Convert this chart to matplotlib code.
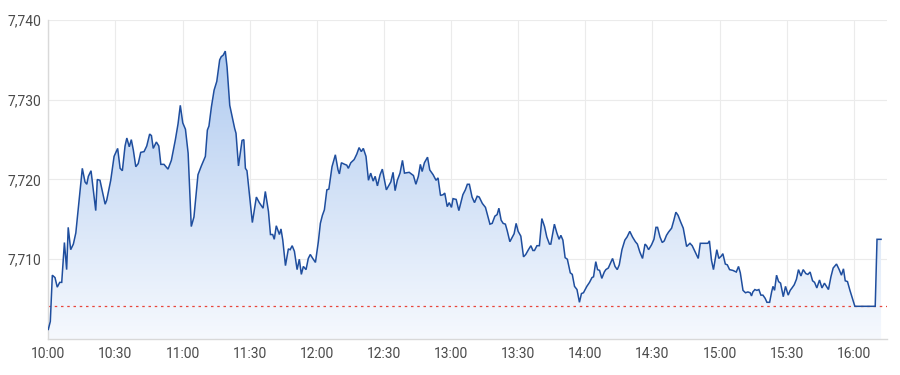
import matplotlib as mpl
mpl.use("Agg")
import matplotlib.pyplot as plt
import numpy as np
from matplotlib.colors import LinearSegmentedColormap
from matplotlib.patches import Polygon

# minutes after 10:00 and index level
MINUTES = [
    0, 0.9, 1.8, 3.0, 4.0, 5.1, 6.0, 7.2, 8.2, 8.9, 10.0, 11.2, 12.3, 13.4, 15.2, 16.4,
    17.2, 17.9, 19.1, 21.2, 21.9, 23.1, 25.4, 26.1, 27.9, 29.4, 31.0, 32.1, 33.1, 34.3,
    35.1, 36.2, 37.1, 38.0, 39.1, 40.2, 41.3, 42.8, 44.0, 45.3, 46.1, 46.9, 48.3, 49.4,
    50.3, 51.7, 53.5, 55.0, 56.8, 58.0, 59.0, 60.1, 61.3, 62.5, 63.9, 65.1, 66.9, 68.4,
    70.2, 71.1, 71.8, 72.9, 74.1, 75.3, 76.6, 77.3, 78.2, 79.1, 79.9, 81.1, 83.3, 83.9,
    85.0, 86.6, 87.4, 88.1, 88.8, 91.2, 93.0, 94.3, 96.0, 97.0, 98.4, 99.3, 100.3, 101.0,
    101.9, 103.3, 104.0, 104.8, 106.0, 107.3, 108.1, 109.0, 110.0, 111.2, 112.2, 113.1,
    114.0, 115.2, 116.2, 117.1, 118.2, 119.4, 120.7, 121.6, 122.5, 123.4, 124.5, 125.4,
    126.8, 128.3, 129.5, 130.1, 131.0, 132.5, 133.4, 134.1, 135.2, 136.7, 137.9, 138.9,
    139.9, 140.8, 142.0, 143.1, 144.1, 145.2, 146.1, 147.1, 148.3, 149.3, 151.1, 153.1,
    154.1, 155.0, 156.0, 157.2, 158.3, 159.2, 161.3, 163.2, 164.3, 165.4, 166.3, 167.1,
    168.1, 169.5, 170.5, 172.0, 173.3, 174.2, 175.3, 176.5, 177.2, 178.3, 179.2, 180.2,
    180.9, 182.3, 183.5, 185.3, 186.4, 187.3, 188.2, 189.4, 190.5, 191.7, 192.6, 194.0,
    195.4, 197.4, 198.4, 199.6, 200.6, 201.4, 202.4, 203.3, 204.3, 205.1, 206.3, 208.2,
    209.1, 210.0, 211.2, 212.4, 213.4, 214.6, 215.7, 216.6, 217.3, 218.4, 219.5, 220.6,
    221.8, 222.8, 224.0, 224.6, 226.2, 227.3, 228.3, 229.1, 230.0, 231.0, 232.0, 233.3,
    234.2, 235.2, 236.3, 237.4, 238.3, 239.2, 240.7, 241.9, 243.0, 243.7, 244.7, 245.5,
    246.4, 247.4, 248.5, 249.2, 250.3, 252.2, 253.3, 254.3, 255.2, 256.4, 257.7, 258.7,
    259.9, 261.1, 262.4, 263.3, 264.4, 265.6, 266.7, 267.4, 268.3, 269.6, 270.7, 271.6,
    272.3, 273.4, 274.4, 275.3, 276.3, 277.2, 278.6, 279.6, 280.5, 281.5, 282.6, 283.8,
    285.3, 286.8, 287.8, 289.0, 290.5, 291.4, 292.8, 294.8, 295.5, 296.4, 297.3, 298.8,
    299.7, 300.8, 301.5, 302.6, 303.5, 304.5, 306.0, 307.5, 308.5, 309.3, 310.5, 311.6,
    312.7, 313.7, 314.3, 314.9, 315.8, 316.7, 317.6, 318.5, 319.4, 320.4, 321.2, 322.4,
    323.3, 323.9, 324.6, 325.5, 326.4, 327.3, 328.5, 329.5, 330.7, 331.6, 332.4, 333.4,
    334.4, 335.3, 336.4, 337.4, 338.6, 339.5, 340.5, 341.6, 342.5, 343.5, 344.7, 345.8,
    346.9, 347.8, 348.7, 349.8, 350.8, 352.3, 353.5, 354.5, 355.4, 356.2, 357.2, 358.3,
    359.4, 360.5, 369.6, 370.4, 372.2,
]
PRICES = [
    7701.2, 7702.2, 7708.0, 7707.7, 7706.5, 7707.1, 7707.1, 7712.1, 7708.7, 7714.0, 7711.2,
    7711.9, 7713.3, 7716.4, 7721.4, 7719.7, 7719.4, 7720.4, 7721.1, 7716.1, 7720.0, 7719.9,
    7716.9, 7717.4, 7719.9, 7722.9, 7723.9, 7721.4, 7721.1, 7724.2, 7725.2, 7724.1, 7725.0,
    7723.7, 7721.6, 7722.0, 7723.4, 7723.5, 7724.2, 7725.7, 7725.5, 7723.9, 7724.7, 7724.2,
    7721.9, 7721.9, 7721.3, 7722.4, 7725.0, 7727.0, 7729.3, 7727.1, 7726.3, 7723.3, 7714.1,
    7715.3, 7720.6, 7721.7, 7722.9, 7726.2, 7726.7, 7729.1, 7731.2, 7732.3, 7735.0, 7735.4,
    7735.6, 7736.1, 7734.1, 7729.3, 7726.4, 7725.8, 7721.7, 7724.9, 7725.0, 7721.4, 7721.1,
    7714.6, 7717.8, 7717.1, 7716.4, 7718.5, 7716.0, 7713.1, 7713.1, 7712.5, 7714.2, 7713.1,
    7713.8, 7712.4, 7709.2, 7711.3, 7711.2, 7711.7, 7711.0, 7708.7, 7710.0, 7708.1, 7709.1,
    7708.7, 7710.1, 7710.6, 7710.1, 7709.6, 7712.2, 7714.5, 7715.5, 7716.2, 7718.7, 7718.8,
    7721.6, 7723.1, 7721.2, 7720.7, 7722.1, 7721.9, 7721.8, 7721.4, 7722.1, 7722.5, 7723.2,
    7724.0, 7723.5, 7723.9, 7722.9, 7719.9, 7720.8, 7719.8, 7720.4, 7719.2, 7720.6, 7721.3,
    7718.7, 7719.7, 7720.9, 7718.6, 7719.9, 7720.8, 7722.4, 7720.8, 7720.9, 7720.5, 7719.4,
    7720.4, 7721.9, 7721.0, 7722.1, 7722.8, 7721.2, 7720.6, 7719.9, 7720.2, 7718.0, 7718.1,
    7718.3, 7716.6, 7717.1, 7716.5, 7717.6, 7717.5, 7716.1, 7718.1, 7718.7, 7719.4, 7719.4,
    7717.8, 7717.1, 7717.9, 7717.8, 7717.0, 7716.5, 7714.4, 7714.5, 7715.4, 7715.6, 7716.4,
    7714.9, 7714.5, 7714.4, 7713.6, 7712.2, 7713.2, 7714.5, 7713.5, 7712.9, 7710.3, 7710.6,
    7711.2, 7711.7, 7711.1, 7711.1, 7711.7, 7711.7, 7715.1, 7714.1, 7712.8, 7711.9, 7711.9,
    7714.4, 7713.3, 7712.5, 7713.0, 7712.4, 7710.2, 7710.0, 7708.3, 7708.1, 7706.6, 7706.2,
    7704.6, 7705.7, 7705.8, 7706.6, 7707.1, 7707.7, 7707.8, 7709.7, 7708.7, 7708.6, 7707.6,
    7708.4, 7708.7, 7708.9, 7710.1, 7709.1, 7708.7, 7709.3, 7711.2, 7712.4, 7712.8, 7713.5,
    7712.8, 7712.2, 7711.9, 7710.9, 7710.1, 7711.9, 7711.7, 7711.2, 7711.8, 7712.5, 7714.0,
    7714.0, 7712.8, 7712.1, 7712.3, 7713.0, 7713.4, 7713.9, 7714.9, 7715.9, 7715.5, 7714.7,
    7713.9, 7711.6, 7712.0, 7711.7, 7711.0, 7710.1, 7712.0, 7712.0, 7712.0, 7712.3, 7709.9,
    7708.7, 7711.2, 7710.1, 7710.4, 7710.7, 7709.4, 7709.3, 7708.7, 7708.6, 7708.4, 7709.1,
    7708.3, 7706.1, 7705.8, 7705.9, 7705.8, 7705.4, 7705.9, 7706.2, 7706.1, 7706.2, 7705.5,
    7705.5, 7705.1, 7704.6, 7704.6, 7705.9, 7706.6, 7706.1, 7708.0, 7707.2, 7707.0, 7705.3,
    7706.6, 7705.5, 7706.1, 7706.4, 7706.8, 7707.5, 7708.7, 7707.9, 7708.7, 7708.2, 7708.1,
    7708.4, 7707.3, 7707.1, 7706.4, 7707.4, 7706.4, 7707.0, 7706.6, 7706.2, 7707.8, 7708.9,
    7709.4, 7708.7, 7708.0, 7708.8, 7707.3, 7707.2, 7706.1, 7705.1, 7704.1, 7704.1, 7712.5,
    7712.5,
]
PREV_CLOSE = 7704.1

X_TICKS = [0, 30, 60, 90, 120, 150, 180, 210, 240, 270, 300, 330, 360]
X_LABELS = ["10:00", "10:30", "11:00", "11:30", "12:00", "12:30", "13:00",
            "13:30", "14:00", "14:30", "15:00", "15:30", "16:00"]
Y_TICKS = [7710, 7720, 7730, 7740]
Y_MIN, Y_MAX = 7700, 7740
X_MAX = 375

LINE_COLOR = "#1f4e9e"
GRID_COLOR = "#ebebeb"
TEXT_COLOR = "#4a4a4a"

plt.rcParams["font.family"] = ["Roboto", "DejaVu Sans"]

fig = plt.figure(figsize=(9, 3.75), dpi=100)
ax = fig.add_axes([48.3 / 900, 36 / 375, (887.3 - 48.3) / 900, 319 / 375])

x = np.asarray(MINUTES, dtype=float)
y = np.asarray(PRICES, dtype=float)

# gradient area under the line, clipped to the polygon below the price
cmap = LinearSegmentedColormap.from_list("area", ["#f6f9fe", "#a9c6ee"])
grad = np.linspace(0, 1, 256).reshape(-1, 1)
img = ax.imshow(grad, extent=[0, X_MAX, Y_MIN, Y_MAX], origin="lower", aspect="auto",
                cmap=cmap, zorder=1)
verts = np.vstack([[x[0], Y_MIN], np.column_stack([x, y]), [x[-1], Y_MIN]])
poly = Polygon(verts, closed=True, facecolor="none", edgecolor="none")
ax.add_patch(poly)
img.set_clip_path(poly)

ax.plot(x, y, color=LINE_COLOR, lw=1.1, zorder=3, solid_joinstyle="miter")
ax.axhline(PREV_CLOSE, color="#e8453c", lw=0.9, ls=(0, (2, 3)), zorder=2)

ax.set_xlim(0, X_MAX)
ax.set_ylim(Y_MIN, Y_MAX)
ax.set_xticks(X_TICKS)
ax.set_xticklabels(X_LABELS)
ax.set_yticks(Y_TICKS)
ax.set_yticklabels([f"{v:,}" for v in Y_TICKS])
ax.grid(True, color=GRID_COLOR, lw=0.8, zorder=0)
ax.set_axisbelow(True)

for side in ["top", "right"]:
    ax.spines[side].set_visible(False)
for side in ["left", "bottom"]:
    ax.spines[side].set_color("#d9d9d9")
    ax.spines[side].set_linewidth(1.0)

ax.tick_params(length=0, pad=6, labelsize=10, colors=TEXT_COLOR)
ax.tick_params(axis="y", pad=5)

fig.savefig("out.png", dpi=100)
